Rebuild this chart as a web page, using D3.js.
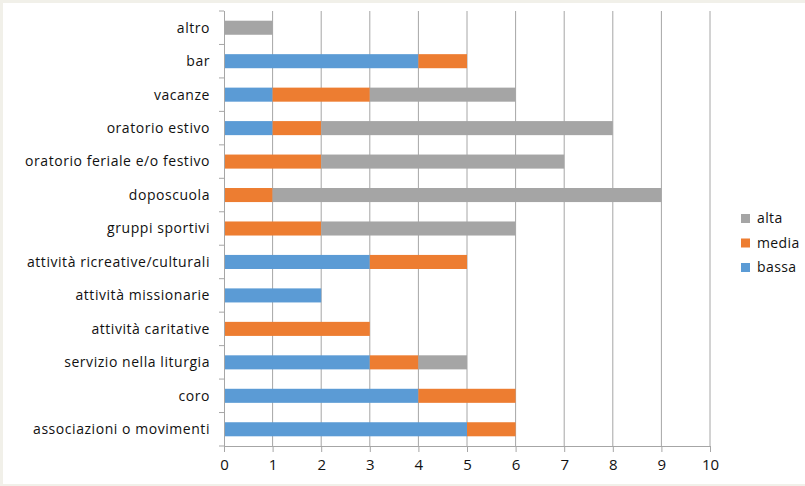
<!DOCTYPE html>
<html>
<head>
<meta charset="utf-8">
<script src="https://cdn.jsdelivr.net/npm/d3@7"></script>
<style>
  body { margin: 0; background: #f1f0e9; }
  svg { display: block; }
  text { font-family: "Open Sans", sans-serif; fill: #111; }
</style>
</head>
<body>
<div id="chart"></div>
<script>
// categories, top to bottom
const categories = [
  "altro", "bar", "vacanze", "oratorio estivo", "oratorio feriale e/o festivo",
  "doposcuola", "gruppi sportivi", "attività ricreative/culturali",
  "attività missionarie", "attività caritative", "servizio nella liturgia",
  "coro", "associazioni o movimenti"
];
const bassa = [0, 4, 1, 1, 0, 0, 0, 3, 2, 0, 3, 4, 5];
const media = [0, 1, 2, 1, 2, 1, 2, 2, 0, 3, 1, 2, 1];
const alta  = [1, 0, 3, 6, 5, 8, 4, 0, 0, 0, 1, 0, 0];
const seriesNames = ["bassa", "media", "alta"];
const seriesColors = ["#5b9bd5", "#ed7d31", "#a5a5a5"];
const xTicks = d3.range(0, 11);

const width = 805, height = 486;
const margin = {top: 11, left: 224, right: 95, bottom: 40};

const svg = d3.select("#chart").append("svg")
    .attr("width", width)
    .attr("height", height);

svg.append("rect")
    .attr("x", 3).attr("y", 3)
    .attr("width", width - 3).attr("height", height - 5)
    .attr("fill", "#fff");

const x = d3.scaleLinear().domain([0, 10]).range([margin.left, 710]);
const y = d3.scaleBand().domain(categories).range([margin.top, 446]).paddingInner(0.58).paddingOuter(0.29);

// gridlines
svg.append("g")
    .selectAll("line")
    .data(xTicks.slice(1))
    .join("line")
    .attr("x1", d => x(d)).attr("x2", d => x(d))
    .attr("y1", margin.top).attr("y2", 446)
    .attr("stroke", "#a6a6a6")
    .attr("stroke-width", 1);

// stacked data
const rows = categories.map((c, i) => ({cat: c, bassa: bassa[i], media: media[i], alta: alta[i]}));
const stack = d3.stack().keys(seriesNames)(rows);

svg.append("g")
    .selectAll("g")
    .data(stack)
    .join("g")
    .attr("fill", (d, i) => seriesColors[i])
    .selectAll("rect")
    .data(d => d)
    .join("rect")
    .attr("x", d => x(d[0]))
    .attr("y", d => y(d.data.cat))
    .attr("width", d => x(d[1]) - x(d[0]))
    .attr("height", y.bandwidth());

// y axis line and ticks between categories
const step = (446 - margin.top) / categories.length;
const yAxis = svg.append("g");
yAxis.append("line")
    .attr("x1", x(0) + 0.5).attr("x2", x(0) + 0.5)
    .attr("y1", margin.top).attr("y2", 446)
    .attr("stroke", "#a6a6a6");
yAxis.selectAll(".tk")
    .data(d3.range(categories.length + 1))
    .join("line")
    .attr("x1", x(0) - 5).attr("x2", x(0))
    .attr("y1", i => margin.top + i * step).attr("y2", i => margin.top + i * step)
    .attr("stroke", "#a6a6a6");
yAxis.selectAll("text")
    .data(categories)
    .join("text")
    .attr("x", x(0) - 14)
    .attr("y", d => y(d) + y.bandwidth() / 2)
    .attr("dy", "0.35em")
    .attr("text-anchor", "end")
    .style("font-size", "14px")
    .style("letter-spacing", "0.55px")
    .text(d => d);

// x axis
const xAxis = svg.append("g")
    .attr("transform", "translate(0,446)")
    .call(d3.axisBottom(x).tickValues(xTicks).tickSize(6).tickPadding(7));
xAxis.selectAll("line").attr("stroke", "#a6a6a6");
xAxis.select(".domain").attr("stroke", "#a6a6a6").attr("d", `M${x(0)},0.5H${x(10)}`);
xAxis.selectAll("text").style("font-size", "15px").style("font-family", "Open Sans, sans-serif").attr("fill", "#111");

// legend
const legendItems = [
  {name: "alta", color: seriesColors[2]},
  {name: "media", color: seriesColors[1]},
  {name: "bassa", color: seriesColors[0]}
];
const legend = svg.append("g").attr("transform", "translate(741,214)");
const li = legend.selectAll("g")
    .data(legendItems)
    .join("g")
    .attr("transform", (d, i) => `translate(0,${i * 24.5})`);
li.append("rect")
    .attr("width", 9).attr("height", 9)
    .attr("fill", d => d.color);
li.append("text")
    .attr("x", 16).attr("y", 4.5)
    .attr("dy", "0.35em")
    .style("font-size", "14px")
    .style("letter-spacing", "0.4px")
    .text(d => d.name);
</script>
</body>
</html>
